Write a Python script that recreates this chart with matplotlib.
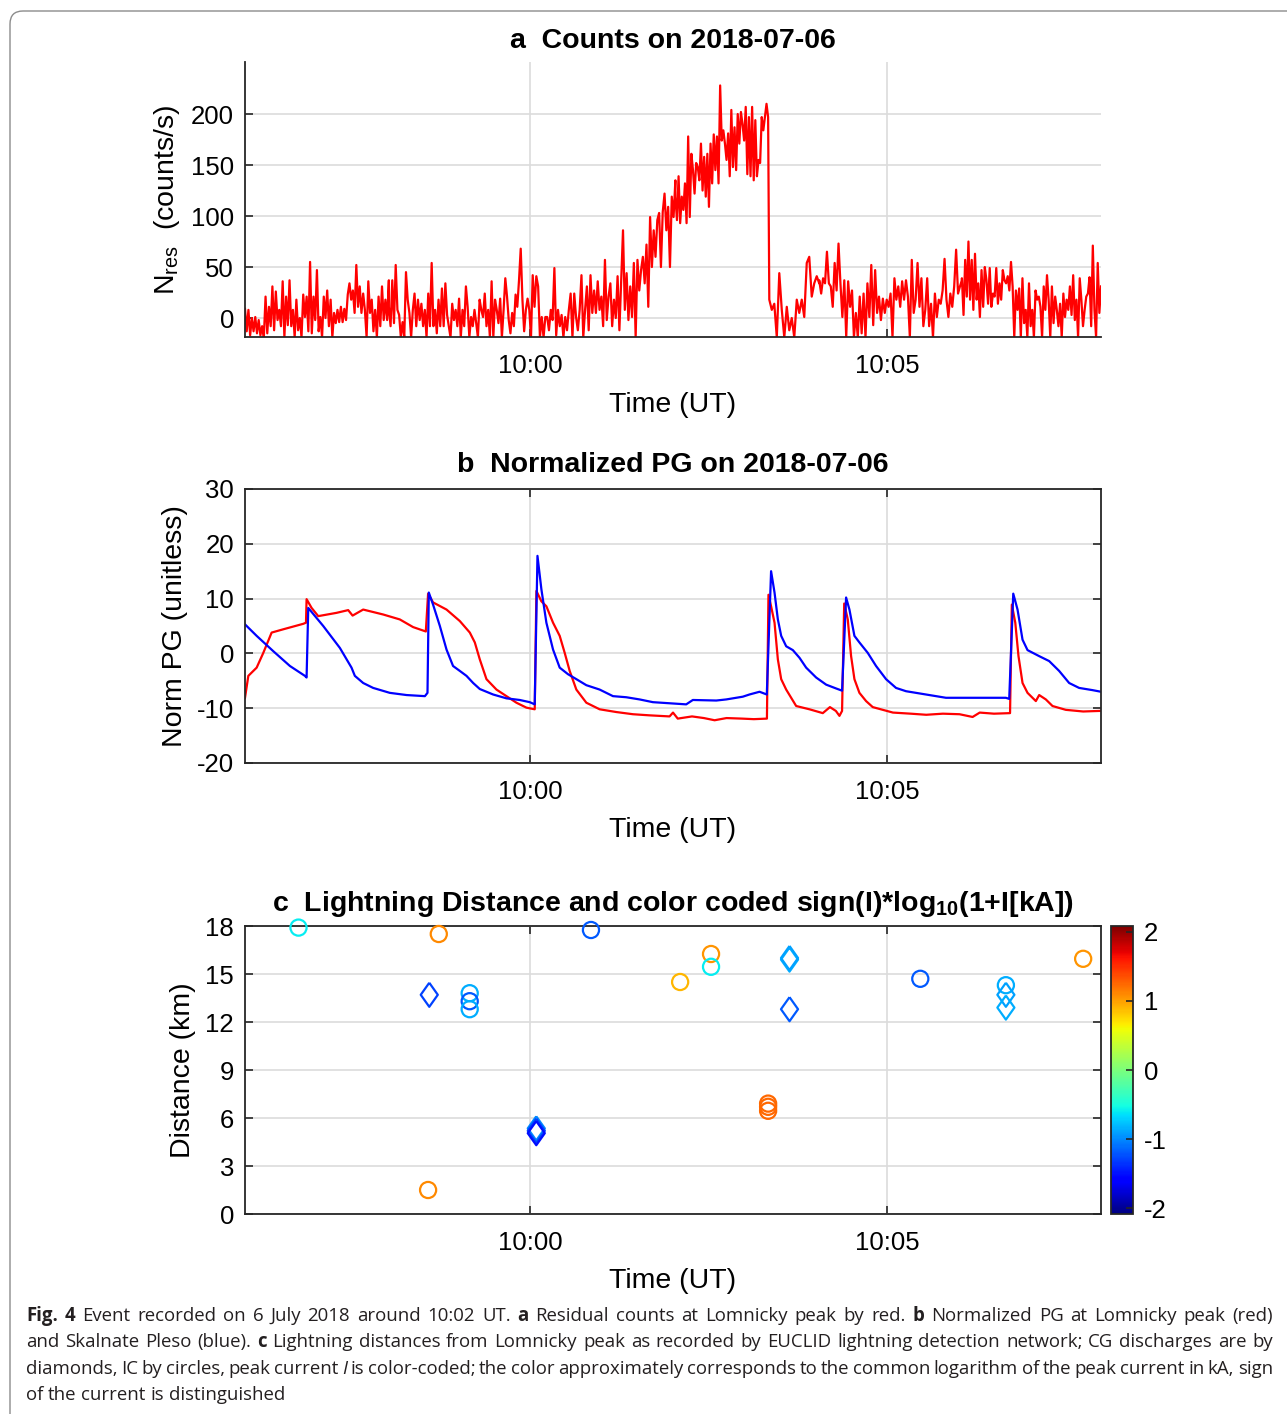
import numpy as np
import matplotlib
matplotlib.use('Agg')
import matplotlib.pyplot as plt
import matplotlib.dates as mdates
from matplotlib.colors import Normalize
from matplotlib.cm import ScalarMappable
from matplotlib.patches import FancyBboxPatch

plt.rcParams['font.family'] = ['Liberation Sans', 'DejaVu Sans']
plt.rcParams['axes.unicode_minus'] = False

# ---- data: seconds after 09:56:00 UT on 2018-07-06 ----
t0 = np.datetime64('2018-07-06T09:56:00')

# panel a: residual counts (segment start/end in s)
seg_edges = [(0, 121), (121, 242), (242, 362), (362, 440), (441, 483), (483, 603), (603, 720)]
counts_seg1 = [9, -13, 8, -17, 0, -13, 1, -15, -2, -17, -8, -19, 21, -15, 11, -8, 31, -12, 26, -2, 8, -8, 36, -19,
               21, -7, 37, -8, 8, -19, 18, -12, 0, -19, 23, 1, 21, -13, 55, -15, 21, -2, 47, -13, 1, -19, 21, 0, 27,
               -8, 18, -19, 5, -5, 8, -4, 11, -4, 9, -2, 23, 34, 18, 27, 5, 52, 11, 31, 5, 24, 8, -19, 36, 5, 18, -13,
               8, -19, 21, -8, 31, -2, 18, -2, 37]
counts_seg2 = [11, -8, 37, -5, 52, 8, 3, -19, -4, -19, 45, 18, 5, -19, 8, 24, -8, 18, -2, 14, -8, 8, -19, 24, -8, 54,
               -8, 8, -15, 18, -8, 29, -8, 34, 3, -8, -19, 14, -2, 8, -8, 19, -19, 8, -8, 31, 11, -19, 1, -8, 8, -5,
               -19, 18, 8, 1, 24, -8, 8, -19, 36, -19, 18, 8, -5, 19, -19, 8, 39, 21, -2, -15, 5, -8, 23, 11, 37, 68,
               18, -13, 8, 19, 8, -19, 42]
counts_seg3 = [42, 11, 41, 31, -19, 1, -19, 1, 1, -12, 8, -2, 49, -17, 8, -8, 3, -19, 1, -12, 8, 24, -19, 24, 1, -12,
               8, 42, -19, 8, 31, -12, 42, 5, 27, 5, 36, 8, 21, -8, 57, -2, 21, 34, -8, 18, 0, 41, -12, 36, 86, 8, 44,
               -2, 31, 1, 54, -19, 57, 27, 47, 60, 34, 72, 11, 99, 50, 86, 60, 96, 103, 50, 104, 122, 86, 109, 50, 119,
               99, 135]
counts_seg4 = [119, 96, 139, 93, 119, 106, 132, 93, 178, 99, 161, 145, 122, 152, 148, 135, 171, 125, 158, 119, 161,
               109, 171, 132, 180, 145, 178, 132, 228, 174, 184, 171, 155, 181, 139, 204, 148, 187, 145, 200, 171, 202,
               190, 174, 207, 141, 197, 139, 207, 135, 194, 139, 155, 152, 197, 184, 197, 210, 197]
counts_seg5 = [18, 8, 14, -19, 44, 8, -19, 11, -12, 0, -19, 18, 5, 18, 1, 54, 60, 21, 34, 41, 34]
counts_seg6 = [37, 24, 39, 34, 65, 34, 31, 11, 54, 27, 73, 34, 1, 37, -19, 36, 11, 27, -19, 5, -19, 21, -15, 24, -19,
               34, 1, 52, -7, 47, 5, 21, -2, 19, 5, 18, 11, 24, -19, 39, 18, 31, 11, 36, 18, 37, 21, -19, 57, 5, 18,
               54, 11, 39, -8, 8, 39, -8, 14, -19, 24, 1, 18, 14, 27, 58, 18, 1, 24, 11, 31, 67, 24, 31, 37]
counts_seg7 = [39, 3, 57, 21, 75, 18, 57, 8, 63, 18, 34, 1, 47, 11, 50, 37, 14, 49, 11, 24, 21, 49, 14, 34, 18, 47,
               37, 34, 41, 27, 55, 31, -19, 27, 8, 29, -19, 39, -5, 8, -19, 34, -8, 8, -19, 27, 18, 21, 11, -19, 31, 8,
               42, 18, -19, 31, -5, 21, 8, -8, 14, -19, 24, 1, 18, 8, 31, 3, 42, -2, 18, -19, 39, 18, -8, 8, 21, 24,
               40, -8, 71, 8, -19, 54, 5, 31]
counts_segs = [counts_seg1, counts_seg2, counts_seg3, counts_seg4, counts_seg5, counts_seg6, counts_seg7]

# panel b: normalized PG, Lomnicky peak (red) and Skalnate Pleso (blue)
pg_red_t = [0, 2.8, 9.8, 15.4, 22.4, 32.2, 49, 51.3, 51.8, 56, 61.6, 77, 86.8, 90.5, 99.4, 116.2, 130.2, 141.4,
            152.1, 154, 158.2, 169.5, 180.7, 189.1, 193.3, 197.5, 203.1, 211.5, 219.9, 228.3, 236.7, 243.7, 245.1,
            249.3, 253.5, 259.1, 264.7, 268.9, 273.1, 278.7, 287.1, 298.3, 312.3, 326.3, 340, 357.1, 360, 364, 376,
            386, 395, 405, 418, 428, 439, 440.3, 442.5, 445.4, 448.2, 451, 455.2, 459.4, 463.6, 474.8, 486, 492, 497,
            500, 502.2, 504, 507, 509.8, 512.6, 516.8, 522.4, 528, 545, 560, 573, 587, 601, 612, 618, 630, 643.5,
            645, 647.9, 650.6, 654, 658.2, 665.2, 668, 673.6, 679.2, 690.4, 705, 718.5, 720]
pg_red = [-8.1, -4.1, -2.6, 0.1, 3.8, 4.4, 5.4, 5.6, 9.9, 8.3, 6.8, 7.4, 7.9, 6.9, 8.0, 7.1, 6.2, 4.8, 4.0, 10.9, 9.3,
          8.0, 5.9, 3.8, 2.0, -1.1, -4.7, -6.6, -7.8, -9.0, -9.9, -10.2, 11.4, 9.5, 8.6, 5.6, 3.2, 0.1, -3.2, -6.6,
          -9.0, -10.2, -10.7, -11.1, -11.3, -11.5, -10.8, -11.9, -11.5, -11.8, -12.2, -11.8, -11.9, -12.0, -11.9,
          10.7, 8.6, 5.6, -1.1, -4.7, -6.6, -8.1, -9.6, -10.2, -10.9, -9.8, -10.5, -11.4, -10.5, 9.1, 6.2, -0.5,
          -4.7, -7.2, -8.7, -9.8, -10.8, -11.0, -11.2, -11.0, -11.1, -11.6, -10.8, -11.0, -10.9, 8.9, 5.6, -0.5,
          -5.4, -7.2, -8.7, -7.6, -8.4, -9.6, -10.3, -10.6, -10.5, -10.5]
pg_blue_t = [0, 9.8, 23.8, 37.8, 50.4, 51.8, 53.2, 65.8, 79.8, 89.6, 92.4, 99.4, 107.8, 121.8, 135.9, 151.3, 153.5,
             154.6, 158.2, 163.9, 169.5, 175, 180.7, 186.3, 191.9, 197.5, 208.7, 219.9, 231.1, 239.5, 243.7, 246,
             249.3, 253.5, 259.1, 264.7, 271.7, 278.7, 287.1, 298.3, 309.5, 320.7, 331.9, 343.1, 357.1, 371.1, 376.7,
             396.4, 404.8, 418.7, 424.3, 432.8, 438.9, 442.5, 445.4, 448.2, 451, 455.2, 460.8, 466.4, 472, 480.4,
             488.8, 497.2, 502.2, 505.6, 508.4, 512.6, 516.8, 523.8, 530.8, 539.2, 547.6, 556, 567.2, 589.6, 614.8,
             640, 642.8, 646.2, 649.8, 654, 658.2, 668, 676.4, 684.8, 693.2, 701.6, 712.8, 720]
pg_blue = [5.3, 3.2, 0.4, -2.3, -4.1, -4.4, 8.3, 5.0, 1.0, -2.6, -4.1, -5.4, -6.3, -7.2, -7.6, -7.8, -7.2, 11.1, 8.9,
           5.0, 0.7, -2.3, -3.2, -4.1, -5.4, -6.5, -7.5, -8.2, -8.5, -8.9, -9.3, 17.8, 11.7, 5.6, 0.7, -2.6, -3.8,
           -4.7, -5.8, -6.6, -7.8, -8.0, -8.4, -8.9, -9.1, -9.3, -8.5, -8.6, -8.4, -7.9, -7.5, -7.0, -7.5, 15.0,
           11.1, 6.2, 3.2, 1.3, 0.6, -0.8, -2.6, -4.4, -5.7, -6.4, -6.8, 10.2, 8.0, 3.2, 2.0, 0.1, -2.3, -4.7, -6.3,
           -6.9, -7.3, -8.1, -8.1, -8.1, -8.3, 10.9, 8.0, 2.5, 0.6, -0.5, -1.4, -3.2, -5.4, -6.3, -6.7, -7.0]

# panel c: lightning strokes (time s, distance km, sign(I)*log10(1+|I|))
ic_t = [45, 163, 291, 189, 189, 189, 154, 366, 392, 392, 440, 440, 440, 568, 640, 705]
ic_dist = [17.9, 17.5, 17.75, 13.8, 13.3, 12.8, 1.5, 14.5, 16.25, 15.45, 6.9, 6.7, 6.45, 14.7, 14.3, 15.95]
ic_val = [-0.6, 1.1, -1.2, -0.85, -1.2, -0.85, 1.1, 0.9, 1.05, -0.6, 1.25, 1.25, 1.25, -1.2, -0.85, 1.05]
cg_t = [155, 245, 245, 245, 458, 458, 458, 640, 640]
cg_dist = [13.7, 5.35, 5.2, 5.05, 15.9, 16.0, 12.8, 13.7, 12.9]
cg_val = [-1.3, -1.0, -1.3, -1.5, -0.85, -0.9, -1.2, -0.9, -0.85]

cbar_ticks = [-2, -1, 0, 1, 2]

# caption: '@' = bold word, '~' = italic word
caption = [
    '@Fig. @4 Event recorded on 6 July 2018 around 10:02 UT. @a Residual counts at Lomnicky peak by red. '
    '@b Normalized PG at Lomnicky peak (red)',
    'and Skalnate Pleso (blue). @c Lightning distances from Lomnicky peak as recorded by EUCLID lightning '
    'detection network; CG discharges are by',
    'diamonds, IC by circles, peak current ~I is color-coded; the color approximately corresponds to the '
    'common logarithm of the peak current in kA, sign',
    'of the current is distinguished',
]


def to_time(sec):
    return t0 + (np.asarray(sec, dtype=float) * 1000).astype(np.int64) * np.timedelta64(1, 'ms')


counts_t = np.concatenate([np.linspace(a, b, len(v)) for (a, b), v in zip(seg_edges, counts_segs)])
counts = np.concatenate(counts_segs)

W, H = 1287, 1414
fig = plt.figure(figsize=(W / 100, H / 100), dpi=100)


def px_axes(l, t, r, b):
    return fig.add_axes([l / W, 1 - b / H, (r - l) / W, (b - t) / H])


def style(ax, box=True):
    ax.set_xlim(to_time(0), to_time(720))
    ax.xaxis.set_major_locator(mdates.MinuteLocator(byminute=[0, 5]))
    ax.xaxis.set_major_formatter(mdates.DateFormatter('%H:%M'))
    ax.grid(True, color='#dcdcdc', lw=1.2)
    ax.set_axisbelow(True)
    ax.tick_params(direction='in', length=6, width=1.2, color='#262626', labelsize=18.5,
                   top=box, right=box)
    ax.tick_params(axis='x', pad=12)
    ax.tick_params(axis='y', pad=8)
    for sp in ax.spines.values():
        sp.set_color('#262626')
        sp.set_linewidth(1.3)
    if not box:
        ax.spines['top'].set_visible(False)
        ax.spines['right'].set_visible(False)


# ---- a ----
ax1 = px_axes(245, 62, 1101, 337)
ax1.plot(to_time(counts_t), counts, color='red', lw=1.6)
ax1.set_ylim(-18.6, 251)
ax1.set_yticks([0, 50, 100, 150, 200])
style(ax1, box=False)
ax1.set_ylabel(r'$\mathregular{N_{res}}$  (counts/s)', fontsize=20.5)
ax1.yaxis.set_label_coords(-0.074, 0.5)
ax1.set_xlabel('Time (UT)', fontsize=20.5)
ax1.xaxis.set_label_coords(0.5, -0.2)
fig.text(673 / W, 1 - 48 / H, 'a  Counts on 2018-07-06', ha='center', va='baseline',
         fontsize=20.5, fontweight='bold')

# ---- b ----
ax2 = px_axes(245, 489, 1101, 763)
ax2.plot(to_time(pg_red_t), pg_red, color='red', lw=1.6)
ax2.plot(to_time(pg_blue_t), pg_blue, color='blue', lw=1.6)
ax2.set_ylim(-20, 30)
ax2.set_yticks([-20, -10, 0, 10, 20, 30])
style(ax2)
ax2.set_ylabel('Norm PG (unitless)', fontsize=20.5)
ax2.yaxis.set_label_coords(-0.067, 0.5)
ax2.set_xlabel('Time (UT)', fontsize=20.5)
ax2.xaxis.set_label_coords(0.5, -0.197)
fig.text(673 / W, 1 - 472 / H, 'b  Normalized PG on 2018-07-06', ha='center', va='baseline',
         fontsize=20.5, fontweight='bold')

# ---- c ----
ax3 = px_axes(245, 926, 1101, 1214)
norm = Normalize(-2.08, 2.08)
cmap = plt.get_cmap('jet')
diamond = [(0, 1), (0.71, 0), (0, -1), (-0.71, 0), (0, 1)]
ax3.scatter(to_time(ic_t), ic_dist, s=135, marker='o', facecolors='none',
            edgecolors=cmap(norm(np.array(ic_val))), linewidths=1.6, clip_on=False, zorder=3)
ax3.scatter(to_time(cg_t), cg_dist, s=300, marker=diamond, facecolors='none',
            edgecolors=cmap(norm(np.array(cg_val))), linewidths=1.6, clip_on=False, zorder=3)
ax3.set_ylim(0, 18)
ax3.set_yticks([0, 3, 6, 9, 12, 15, 18])
style(ax3)
ax3.set_ylabel('Distance (km)', fontsize=20.5)
ax3.yaxis.set_label_coords(-0.057, 0.5)
ax3.set_xlabel('Time (UT)', fontsize=20.5)
ax3.xaxis.set_label_coords(0.5, -0.188)
fig.text(673 / W, 1 - 911 / H,
         r'c  Lightning Distance and color coded sign(I)*$\mathregular{log_{10}}$(1+I[kA])',
         ha='center', va='baseline', fontsize=20.5, fontweight='bold')

cax = px_axes(1111, 926, 1133, 1214)
cb = fig.colorbar(ScalarMappable(norm=norm, cmap=cmap), cax=cax)
cb.set_ticks(cbar_ticks)
cb.ax.tick_params(direction='in', labelsize=18.5, length=5, width=1.2, color='#262626', pad=8)
cb.outline.set_edgecolor('#262626')
cb.outline.set_linewidth(1.3)

# ---- caption (justified) and frame ----
renderer = fig.canvas.get_renderer()
cap_left, cap_right = 26, 1273
for i, line in enumerate(caption):
    y = 1 - (1321 + 26.3 * i) / H
    items = []
    for w in line.split(' '):
        weight, fstyle = 'normal', 'normal'
        if w.startswith('@'):
            w, weight = w[1:], 'bold'
        elif w.startswith('~'):
            w, fstyle = w[1:], 'italic'
        items.append(fig.text(0, y, w, ha='left', va='baseline', fontsize=13.4, family='Open Sans',
                              fontweight=weight, fontstyle=fstyle, color='#231f20'))
    widths = [t.get_window_extent(renderer).width for t in items]
    if i < len(caption) - 1:
        gap = (cap_right - cap_left - sum(widths)) / (len(items) - 1)
    else:
        gap = 4.8
    x = cap_left
    for t, wd in zip(items, widths):
        t.set_x(x / W)
        x += wd + gap

frame = FancyBboxPatch((0.10, -0.3), 13.3, 14.33, boxstyle='round,pad=0,rounding_size=0.13',
                       transform=fig.dpi_scale_trans, fill=False, ec='#8c8c8c', lw=1.0)
fig.patches.append(frame)

fig.savefig('out.png', dpi=100)
